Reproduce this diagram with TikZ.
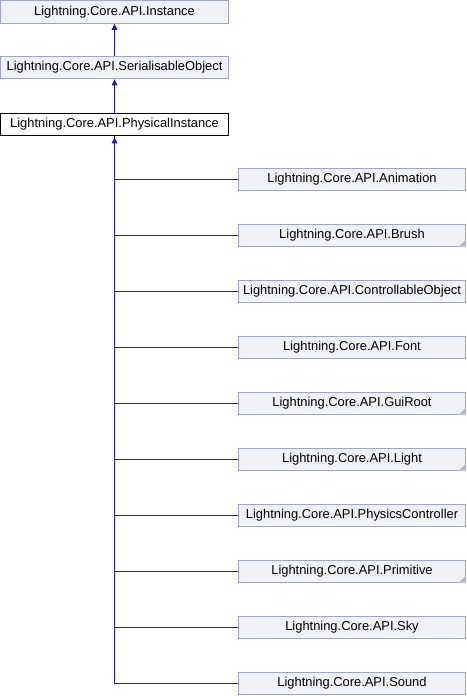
\documentclass[tikz,border=0pt]{standalone}
\usepackage{fontspec}
\setmainfont{Liberation Sans}
\usetikzlibrary{arrows.meta}
\definecolor{boxfill}{HTML}{F1F1F8}
\definecolor{boxline}{HTML}{A3A3D3}
\definecolor{edgeblue}{HTML}{1C1C9C}
\definecolor{cornerfill}{HTML}{BCBCE0}
\begin{document}
\begin{tikzpicture}[x=1pt,y=-1pt,
  cls/.style={draw=boxline, fill=boxfill, line width=1pt, minimum height=22.5pt,
    inner sep=0pt, font=\fontsize{12.9}{14}\selectfont},
  basecls/.style={cls, minimum width=228pt},
  subcls/.style={cls, minimum width=227pt},
  current/.style={cls, draw=black, fill=white, minimum width=228pt},
  inherit/.style={draw=edgeblue, line width=1.1pt, -{Triangle[length=6pt,width=5.5pt]}},
  link/.style={draw=edgeblue, line width=1.1pt}]
\useasboundingbox (0,0) rectangle (466,696);

% base classes and the documented class
\node[basecls] (inst) at (114.5,12) {Lightning.Core.API.Instance};
\node[basecls] (ser)  at (114.5,67.5) {Lightning.Core.API.SerialisableObject};
\node[current] (phys) at (114.5,124.5) {Lightning.Core.API.PhysicalInstance};

\draw[inherit] (ser.north) -- (inst.south);
\draw[inherit] (phys.north) -- (ser.south);

% derived classes
\foreach \nm/\txt/\k in {anim/Animation/0, brush/Brush/1, ctrl/ControllableObject/2,
    font/Font/3, gui/GuiRoot/4, light/Light/5, physc/PhysicsController/6,
    prim/Primitive/7, sky/Sky/8, sound/Sound/9}{
  \node[subcls] (\nm) at (352,179.5+56*\k) {Lightning.Core.API.\txt};
}

% markers for classes with further derived classes
\foreach \nm in {brush, gui, light, prim}{
  \fill[cornerfill] ([xshift=-0.5pt,yshift=0.5pt]\nm.south east) -- ++(-7,0) -- ++(7,-7) -- cycle;
}

% inheritance edges
\coordinate (trunk) at ([yshift=-1pt]phys.south);
\draw[inherit] (sound.west) -| (trunk);
\foreach \nm in {anim, brush, ctrl, font, gui, light, physc, prim, sky}{
  \draw[link] (\nm.west) -| (phys.south);
}
\end{tikzpicture}
\end{document}
